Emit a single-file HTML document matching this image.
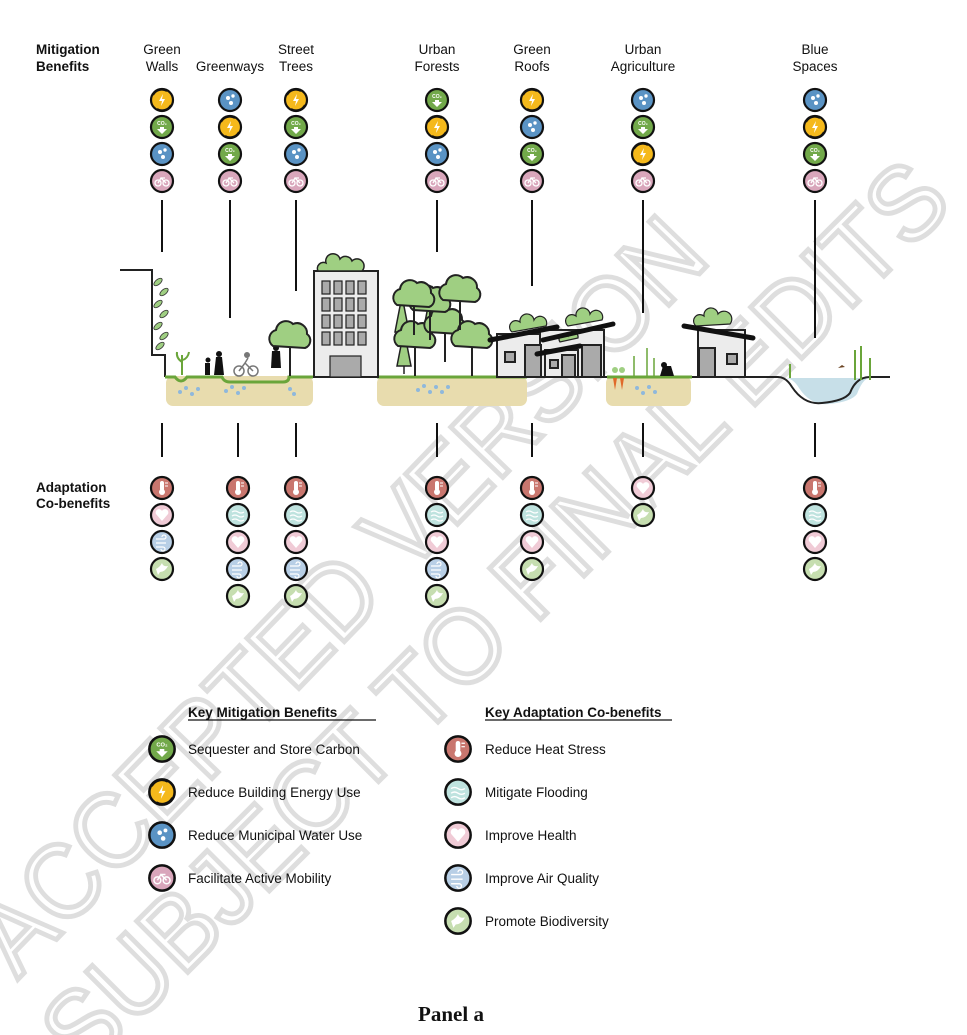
<!DOCTYPE html>
<html><head><meta charset="utf-8"><style>
html,body{margin:0;padding:0;background:#fff;width:967px;height:1035px;overflow:hidden;}
svg{display:block;}
text{font-family:"Liberation Sans",sans-serif;}
</style></head><body>
<svg width="967" height="1035" viewBox="0 0 967 1035" xmlns="http://www.w3.org/2000/svg" overflow="hidden">
<defs>
<g id="en"><circle r="11" fill="#f5b91c" stroke="#111" stroke-width="2.2"/><path d="M-9,-5 A10,10 0 0 1 5,-9" fill="none" stroke="#111" stroke-width="2"/><path d="M9,5 A10,10 0 0 1 -5,9" fill="none" stroke="#111" stroke-width="2"/><path d="M1,-6 L-3,1 L0,1 L-1,6 L3,-1 L0,-1 Z" fill="#fff"/></g>
<g id="co"><circle r="11" fill="#72a94a" stroke="#111" stroke-width="2.2"/><text x="0" y="-2" font-size="5" fill="#fff" text-anchor="middle" font-weight="bold">CO₂</text><path d="M-2,0 h4 v2 h3 l-5,5 l-5,-5 h3z" fill="#fff"/></g>
<g id="wa"><circle r="11" fill="#5a93c4" stroke="#111" stroke-width="2.2"/><circle cx="-2" cy="-2" r="2" fill="#fff"/><circle cx="3" cy="-4" r="1.7" fill="#fff"/><circle cx="1" cy="3" r="2" fill="#fff"/></g>
<g id="mo"><circle r="11" fill="#d9a6bb" stroke="#111" stroke-width="2.2"/><circle cx="-4" cy="2" r="3" fill="none" stroke="#fff" stroke-width="1.3"/><circle cx="4" cy="2" r="3" fill="none" stroke="#fff" stroke-width="1.3"/><path d="M-4,2 L-1,-3 L4,2 M-1,-3 h4" fill="none" stroke="#fff" stroke-width="1.3"/></g>
<g id="he"><circle r="11" fill="#c9766e" stroke="#111" stroke-width="2.2"/><rect x="-2" y="-7" width="4" height="10" rx="2" fill="#fff"/><circle cy="4" r="3" fill="#fff"/><path d="M3,-5h3M3,-2h3" stroke="#fff"/></g>
<g id="fl"><circle r="11" fill="#bfe3df" stroke="#111" stroke-width="2.2"/><path d="M-6,-3 q3,-2 6,0 t6,0 M-6,1 q3,-2 6,0 t6,0 M-6,5 q3,-2 6,0 t6,0" fill="none" stroke="#fff" stroke-width="1.2"/></g>
<g id="hl"><circle r="11" fill="#f0cbd6" stroke="#111" stroke-width="2.2"/><path d="M0,6 L-6,-1 A3.3,3.3 0 0 1 0,-4 A3.3,3.3 0 0 1 6,-1 Z" fill="#fff"/></g>
<g id="ai"><circle r="11" fill="#b8cfe6" stroke="#111" stroke-width="2.2"/><path d="M-6,-3 h8 a2,2 0 1 0 -2,-2 M-6,1 h10 M-6,5 h7 a2,2 0 1 1 -2,2" fill="none" stroke="#fff" stroke-width="1.2"/></g>
<g id="bi"><circle r="11" fill="#c6deb0" stroke="#111" stroke-width="2.2"/><path d="M-6,0 q4,-2 6,-6 q1,4 6,3 q-3,6 -8,6 l-2,3z" fill="#fff"/></g>
<g id="tree"><line x1="0" y1="0" x2="0" y2="-30" stroke="#222" stroke-width="2"/><path d="M-17,-30 a9,9 0 0 1 3,-16 a10,10 0 0 1 17,-6 a10,10 0 0 1 14,10 a8,8 0 0 1 -2,14 z" fill="#9fcf82" stroke="#222" stroke-width="2"/></g>
<g id="pine"><path d="M0,0 V-8 M-7,-8 L0,-44 L7,-8 Z" fill="#9fcf82" stroke="#222" stroke-width="1.5"/></g>
</defs>

<!-- watermark (behind) -->
<g fill="none" stroke="#dedede" stroke-width="5" font-size="105">
<text x="0" y="0" text-anchor="middle" transform="translate(365,620) rotate(-46)" textLength="1000" lengthAdjust="spacingAndGlyphs">ACCEPTED VERSION</text>
<text x="0" y="0" text-anchor="middle" transform="translate(520,640) rotate(-45)" textLength="1230" lengthAdjust="spacingAndGlyphs">SUBJECT TO FINAL EDITS</text>
</g>

<!-- headers -->
<g font-size="13.5" fill="#111">
<text x="36" y="54" font-weight="bold">Mitigation</text><text x="36" y="71" font-weight="bold">Benefits</text>
<g text-anchor="middle">
<text x="162" y="54">Green</text><text x="162" y="71">Walls</text>
<text x="230" y="71">Greenways</text>
<text x="296" y="54">Street</text><text x="296" y="71">Trees</text>
<text x="437" y="54">Urban</text><text x="437" y="71">Forests</text>
<text x="532" y="54">Green</text><text x="532" y="71">Roofs</text>
<text x="643" y="54">Urban</text><text x="643" y="71">Agriculture</text>
<text x="815" y="54">Blue</text><text x="815" y="71">Spaces</text>
</g>
<text x="36" y="492" font-weight="bold">Adaptation</text><text x="36" y="508" font-weight="bold">Co-benefits</text>
</g>

<!-- mitigation icons -->
<use href="#en" x="162" y="100"/><use href="#co" x="162" y="127"/><use href="#wa" x="162" y="154"/><use href="#mo" x="162" y="181"/>
<use href="#wa" x="230" y="100"/><use href="#en" x="230" y="127"/><use href="#co" x="230" y="154"/><use href="#mo" x="230" y="181"/>
<use href="#en" x="296" y="100"/><use href="#co" x="296" y="127"/><use href="#wa" x="296" y="154"/><use href="#mo" x="296" y="181"/>
<use href="#co" x="437" y="100"/><use href="#en" x="437" y="127"/><use href="#wa" x="437" y="154"/><use href="#mo" x="437" y="181"/>
<use href="#en" x="532" y="100"/><use href="#wa" x="532" y="127"/><use href="#co" x="532" y="154"/><use href="#mo" x="532" y="181"/>
<use href="#wa" x="643" y="100"/><use href="#co" x="643" y="127"/><use href="#en" x="643" y="154"/><use href="#mo" x="643" y="181"/>
<use href="#wa" x="815" y="100"/><use href="#en" x="815" y="127"/><use href="#co" x="815" y="154"/><use href="#mo" x="815" y="181"/>

<!-- connectors -->
<g stroke="#111" stroke-width="2">
<line x1="162" y1="200" x2="162" y2="252"/>
<line x1="230" y1="200" x2="230" y2="318"/>
<line x1="296" y1="200" x2="296" y2="291"/>
<line x1="437" y1="200" x2="437" y2="252"/>
<line x1="532" y1="200" x2="532" y2="286"/>
<line x1="643" y1="200" x2="643" y2="313"/>
<line x1="815" y1="200" x2="815" y2="338"/>
<line x1="162" y1="423" x2="162" y2="457"/>
<line x1="238" y1="423" x2="238" y2="457"/>
<line x1="296" y1="423" x2="296" y2="457"/>
<line x1="437" y1="423" x2="437" y2="457"/>
<line x1="532" y1="423" x2="532" y2="457"/>
<line x1="643" y1="423" x2="643" y2="457"/>
<line x1="815" y1="423" x2="815" y2="457"/>
</g>

<!-- soil -->
<g fill="#e8dcae">
<rect x="166" y="376" width="147" height="30" rx="7"/>
<rect x="377" y="376" width="150" height="30" rx="7"/>
<rect x="606" y="376" width="85" height="30" rx="7"/>
</g>
<g fill="#8fb8dc">
<circle cx="180" cy="392" r="2"/><circle cx="186" cy="388" r="2"/><circle cx="192" cy="394" r="2"/><circle cx="198" cy="389" r="2"/>
<circle cx="226" cy="391" r="2"/><circle cx="232" cy="387" r="2"/><circle cx="238" cy="393" r="2"/><circle cx="244" cy="388" r="2"/>
<circle cx="290" cy="389" r="2"/><circle cx="294" cy="394" r="2"/>
<circle cx="418" cy="390" r="2"/><circle cx="424" cy="386" r="2"/><circle cx="430" cy="392" r="2"/><circle cx="436" cy="387" r="2"/><circle cx="442" cy="392" r="2"/><circle cx="448" cy="387" r="2"/>
<circle cx="637" cy="388" r="2"/><circle cx="643" cy="393" r="2"/><circle cx="649" cy="387" r="2"/><circle cx="655" cy="392" r="2"/>
</g>

<!-- ground -->
<path d="M120,270 H152 V355 H165 V377" fill="none" stroke="#222" stroke-width="2"/>
<path d="M165,377 H175 q6,8 12,0 H222 q2,5 8,5 H283 q6,0 6,-5 H313" fill="none" stroke="#6aa53a" stroke-width="3"/>
<line x1="313" y1="377" x2="377" y2="377" stroke="#222" stroke-width="2"/>
<line x1="377" y1="377" x2="527" y2="377" stroke="#6aa53a" stroke-width="3"/>
<line x1="527" y1="377" x2="607" y2="377" stroke="#222" stroke-width="2"/>
<line x1="607" y1="377" x2="692" y2="377" stroke="#6aa53a" stroke-width="3"/>
<path d="M785,378 q8,0 14,10 q12,18 30,16 q22,-2 28,-10 q6,-16 13,-16z" fill="#c7dfe8"/>
<path d="M692,377 H778 q8,0 14,10 q12,18 30,16 q22,-2 28,-10 q6,-16 20,-16 H890" fill="none" stroke="#222" stroke-width="2"/>

<!-- green wall vines -->
<g fill="#9fcf82" stroke="#333" stroke-width="0.8">
<ellipse cx="158" cy="282" rx="5" ry="2.5" transform="rotate(-40 158 282)"/><ellipse cx="164" cy="292" rx="5" ry="2.5" transform="rotate(-40 164 292)"/>
<ellipse cx="158" cy="304" rx="5" ry="2.5" transform="rotate(-40 158 304)"/><ellipse cx="164" cy="314" rx="5" ry="2.5" transform="rotate(-40 164 314)"/>
<ellipse cx="158" cy="326" rx="5" ry="2.5" transform="rotate(-40 158 326)"/><ellipse cx="164" cy="336" rx="5" ry="2.5" transform="rotate(-40 164 336)"/>
<ellipse cx="160" cy="346" rx="5" ry="2.5" transform="rotate(-40 160 346)"/>
</g>
<path d="M182,375 v-20 M182,362 q-6,-4 -5,-10 M183,360 q5,-2 6,-8" stroke="#6aa53a" stroke-width="2" fill="none"/>
<!-- people -->
<g fill="#111"><circle cx="208" cy="360" r="2.5"/><rect x="205" y="363" width="5" height="12"/><circle cx="219" cy="354" r="3"/><path d="M214,375 l2,-18 h6 l2,18z"/><circle cx="276" cy="348" r="3"/><path d="M271,368 l1,-17 h8 l1,17z"/></g>
<g fill="none" stroke="#777" stroke-width="1.5"><circle cx="239" cy="371" r="5"/><circle cx="253" cy="371" r="5"/><path d="M239,371 l6,-8 l8,8 M245,363 l3,-5"/></g><circle cx="247" cy="355" r="3" fill="#777"/>
<use href="#tree" x="290" y="376"/>

<!-- building -->
<rect x="314" y="271" width="64" height="106" fill="#ececec" stroke="#222" stroke-width="2"/>
<g fill="#aaa" stroke="#222" stroke-width="1.2">
<rect x="322" y="281" width="8" height="13"/><rect x="334" y="281" width="8" height="13"/><rect x="346" y="281" width="8" height="13"/><rect x="358" y="281" width="8" height="13"/>
<rect x="322" y="298" width="8" height="13"/><rect x="334" y="298" width="8" height="13"/><rect x="346" y="298" width="8" height="13"/><rect x="358" y="298" width="8" height="13"/>
<rect x="322" y="315" width="8" height="13"/><rect x="334" y="315" width="8" height="13"/><rect x="346" y="315" width="8" height="13"/><rect x="358" y="315" width="8" height="13"/>
<rect x="322" y="332" width="8" height="13"/><rect x="334" y="332" width="8" height="13"/><rect x="346" y="332" width="8" height="13"/><rect x="358" y="332" width="8" height="13"/>
<rect x="330" y="356" width="31" height="21"/></g>
<path d="M318,271 a6,6 0 0 1 8,-8 a7,7 0 0 1 14,-4 a7,7 0 0 1 12,2 a6,6 0 0 1 10,10z" fill="#9fcf82" stroke="#222" stroke-width="1.5"/>

<!-- forest -->
<use href="#pine" x="404" y="374"/><use href="#pine" x="432" y="330"/><use href="#pine" x="402" y="340"/>
<use href="#tree" x="415" y="376"/>
<use href="#tree" x="445" y="362"/><use href="#tree" x="472" y="376"/><use href="#tree" x="430" y="340"/>
<use href="#tree" x="460" y="330"/><use href="#tree" x="414" y="335"/>

<!-- green roof houses -->
<g stroke="#222" stroke-width="2">
<rect x="497" y="334" width="50" height="43" fill="#ececec"/>
<rect x="540" y="330" width="64" height="47" fill="#ececec"/>
<rect x="545" y="350" width="33" height="27" fill="#ececec"/>
<rect x="505" y="352" width="10" height="10" fill="#aaa"/><rect x="525" y="345" width="16" height="32" fill="#aaa"/><rect x="550" y="360" width="8" height="8" fill="#aaa"/><rect x="562" y="355" width="13" height="22" fill="#aaa"/><rect x="582" y="345" width="19" height="32" fill="#aaa"/>
<rect x="698" y="330" width="47" height="47" fill="#ececec"/><rect x="699" y="348" width="16" height="29" fill="#aaa"/><rect x="727" y="354" width="10" height="10" fill="#aaa"/>
</g>
<g fill="#9fcf82" stroke="#222" stroke-width="1.2">
<path d="M512,332 a6,6 0 0 1 8,-10 a7,7 0 0 1 14,-2 a6,6 0 0 1 12,6z"/>
<path d="M568,326 a6,6 0 0 1 8,-10 a7,7 0 0 1 14,-2 a6,6 0 0 1 12,6z"/>
<path d="M560,342 a5,5 0 0 1 8,-6 a5,5 0 0 1 10,2z"/>
<path d="M696,326 a6,6 0 0 1 8,-10 a7,7 0 0 1 14,-2 a6,6 0 0 1 12,10z"/>
</g>
<g stroke="#111" stroke-width="5" stroke-linecap="round">
<line x1="490" y1="340" x2="557" y2="327"/><line x1="543" y1="340" x2="613" y2="324"/><line x1="537" y1="354" x2="580" y2="346"/><line x1="684" y1="326" x2="753" y2="338"/>
</g>
<!-- agriculture -->
<path d="M613,378 l2,12 l2,-12z M620,378 l2,12 l2,-12z" fill="#e06a2a"/>
<circle cx="615" cy="370" r="3" fill="#9fcf82"/><circle cx="622" cy="370" r="3" fill="#9fcf82"/>
<path d="M634,376 v-20 M647,376 v-28 M654,376 v-18" stroke="#6aa53a" stroke-width="1.5"/>
<path d="M660,376 l3,-10 h8 l3,10z" fill="#111"/><circle cx="664" cy="365" r="3" fill="#111"/>
<!-- blue plants -->
<path d="M790,378 v-14 M855,380 v-30 M861,380 v-34 M870,380 v-22" stroke="#6aa53a" stroke-width="2"/>
<path d="M838,368 l4,-3 l3,2z" fill="#6b4423"/>

<!-- adaptation icons -->
<use href="#he" x="162" y="488"/><use href="#hl" x="162" y="515"/><use href="#ai" x="162" y="542"/><use href="#bi" x="162" y="569"/>
<use href="#he" x="238" y="488"/><use href="#fl" x="238" y="515"/><use href="#hl" x="238" y="542"/><use href="#ai" x="238" y="569"/><use href="#bi" x="238" y="596"/>
<use href="#he" x="296" y="488"/><use href="#fl" x="296" y="515"/><use href="#hl" x="296" y="542"/><use href="#ai" x="296" y="569"/><use href="#bi" x="296" y="596"/>
<use href="#he" x="437" y="488"/><use href="#fl" x="437" y="515"/><use href="#hl" x="437" y="542"/><use href="#ai" x="437" y="569"/><use href="#bi" x="437" y="596"/>
<use href="#he" x="532" y="488"/><use href="#fl" x="532" y="515"/><use href="#hl" x="532" y="542"/><use href="#bi" x="532" y="569"/>
<use href="#hl" x="643" y="488"/><use href="#bi" x="643" y="515"/>
<use href="#he" x="815" y="488"/><use href="#fl" x="815" y="515"/><use href="#hl" x="815" y="542"/><use href="#bi" x="815" y="569"/>

<!-- legend -->
<g font-size="13.5" fill="#111">
<text x="188" y="717" font-weight="bold">Key Mitigation Benefits</text>
<line x1="188" y1="720" x2="376" y2="720" stroke="#111" stroke-width="1.3"/>
<text x="485" y="717" font-weight="bold">Key Adaptation Co-benefits</text>
<line x1="485" y1="720" x2="672" y2="720" stroke="#111" stroke-width="1.3"/>
<g transform="translate(162,749) scale(1.15)"><use href="#co"/></g><text x="188" y="754">Sequester and Store Carbon</text>
<g transform="translate(162,792) scale(1.15)"><use href="#en"/></g><text x="188" y="797">Reduce Building Energy Use</text>
<g transform="translate(162,835) scale(1.15)"><use href="#wa"/></g><text x="188" y="840">Reduce Municipal Water Use</text>
<g transform="translate(162,878) scale(1.15)"><use href="#mo"/></g><text x="188" y="883">Facilitate Active Mobility</text>
<g transform="translate(458,749) scale(1.15)"><use href="#he"/></g><text x="485" y="754">Reduce Heat Stress</text>
<g transform="translate(458,792) scale(1.15)"><use href="#fl"/></g><text x="485" y="797">Mitigate Flooding</text>
<g transform="translate(458,835) scale(1.15)"><use href="#hl"/></g><text x="485" y="840">Improve Health</text>
<g transform="translate(458,878) scale(1.15)"><use href="#ai"/></g><text x="485" y="883">Improve Air Quality</text>
<g transform="translate(458,921) scale(1.15)"><use href="#bi"/></g><text x="485" y="926">Promote Biodiversity</text>
</g>

<text x="451" y="1021" style="font-family:'Liberation Serif',serif;font-size:21px;font-weight:bold" text-anchor="middle" fill="#111">Panel a</text>
</svg>
</body></html>
